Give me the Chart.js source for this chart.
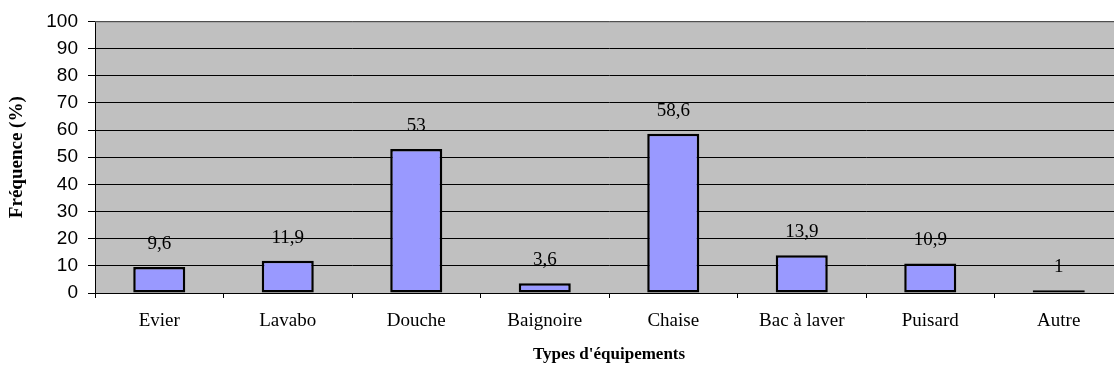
<!DOCTYPE html>
<html>
<head>
<meta charset="utf-8">
<script src="https://cdn.jsdelivr.net/npm/chart.js@4/dist/chart.umd.min.js"></script>
<style>
    html, body { margin: 0; padding: 0; background: #fff; overflow: hidden; }
    #wrap { width: 1124px; height: 373px; position: relative; }
</style>
</head>
<body>
<div id="wrap"><canvas id="equipChart"></canvas></div>
<script>
// Données du graphique
const categories = ['Evier', 'Lavabo', 'Douche', 'Baignoire', 'Chaise', 'Bac à laver', 'Puisard', 'Autre'];
const frequences = [9.6, 11.9, 53, 3.6, 58.6, 13.9, 10.9, 1];
const yTicks = [0, 10, 20, 30, 40, 50, 60, 70, 80, 90, 100];

const serif = '"Liberation Serif", "Times New Roman", serif';
const sans = '"Liberation Sans", Arial, sans-serif';

// Fond gris de la zone de tracé + bord supérieur
const plotBackground = {
    id: 'plotBackground',
    beforeDraw(chart) {
        const { ctx, chartArea: a } = chart;
        ctx.save();
        ctx.fillStyle = '#C0C0C0';
        ctx.fillRect(a.left, a.top, a.right - a.left, a.bottom - a.top);
        ctx.restore();
    },
    afterDraw(chart) {
        const { ctx, chartArea: a } = chart;
        ctx.save();
        ctx.strokeStyle = '#808080';
        ctx.lineWidth = 1;
        ctx.beginPath();
        ctx.moveTo(a.left, a.top + 0.5);
        ctx.lineTo(a.right, a.top + 0.5);
        ctx.stroke();
        ctx.restore();
    }
};

// Étiquettes de valeurs au-dessus des barres (virgule décimale)
const valueLabels = {
    id: 'valueLabels',
    afterDatasetsDraw(chart) {
        const { ctx } = chart;
        const meta = chart.getDatasetMeta(0);
        ctx.save();
        ctx.font = '19px ' + serif;
        ctx.fillStyle = '#000';
        ctx.textAlign = 'center';
        ctx.textBaseline = 'middle';
        meta.data.forEach((bar, i) => {
            const txt = String(frequences[i]).replace('.', ',');
            ctx.fillText(txt, bar.x, bar.y - 23);
        });
        ctx.restore();
    }
};

const ctx = document.getElementById('equipChart').getContext('2d');

new Chart(ctx, {
    type: 'bar',
    data: {
        labels: categories,
        datasets: [{
            data: frequences,
            backgroundColor: '#9999FF',
            borderColor: '#000',
            borderWidth: 2.5,
            borderSkipped: false,
            categoryPercentage: 1,
            barPercentage: 0.405
        }]
    },
    options: {
        responsive: true,
        maintainAspectRatio: false,
        animation: false,
        layout: { padding: { top: 20, right: 1, left: 0, bottom: 0 } },
        plugins: {
            legend: { display: false },
            tooltip: { enabled: false }
        },
        scales: {
            x: {
                afterFit(scale) { scale.height = 80; },
                grid: { drawOnChartArea: false, offset: true, tickLength: 5, color: '#000' },
                border: { color: '#000' },
                ticks: { color: '#000', padding: 12, font: { family: serif, size: 19 } },
                title: {
                    display: true,
                    text: "Types d'équipements",
                    color: '#000',
                    padding: { top: 0, bottom: 8 },
                    font: { family: serif, size: 17, weight: 'bold' }
                }
            },
            y: {
                min: 0,
                max: 100,
                afterFit(scale) { scale.width = 95; },
                afterBuildTicks(scale) { scale.ticks = yTicks.map(v => ({ value: v })); },
                grid: { color: '#000', tickLength: 7 },
                border: { color: '#000' },
                ticks: { color: '#000', padding: 10, font: { family: sans, size: 19 } },
                title: {
                    display: true,
                    text: 'Fréquence (%)',
                    color: '#000',
                    padding: { top: 6, bottom: 0 },
                    font: { family: serif, size: 19, weight: 'bold' }
                }
            }
        }
    },
    plugins: [plotBackground, valueLabels]
});
</script>
</body>
</html>
